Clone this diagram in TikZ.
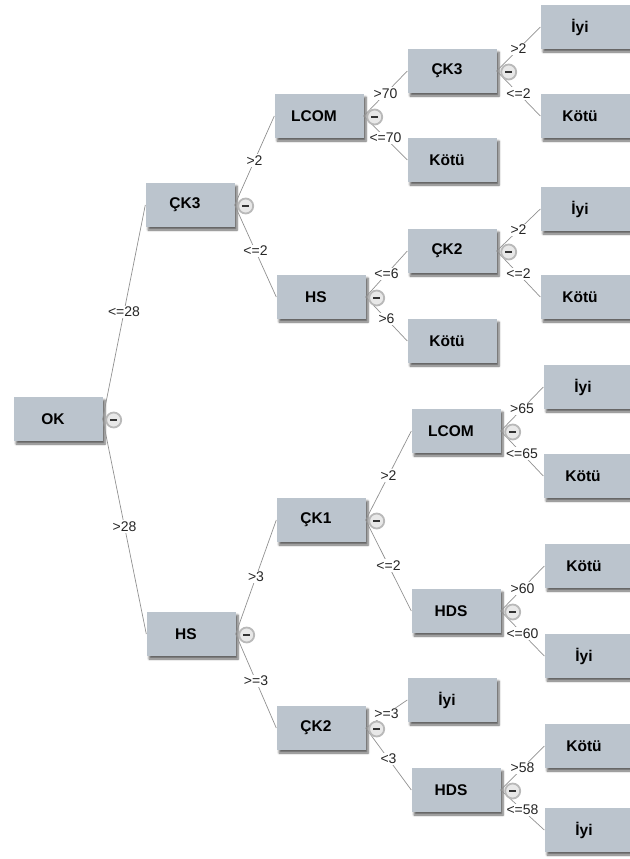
\documentclass[tikz,border=0pt]{standalone}
\usepackage{fontspec}
\setmainfont{Liberation Sans}
\usetikzlibrary{shadows.blur}
\definecolor{boxgray}{RGB}{187,196,205}
\definecolor{edgegray}{RGB}{145,145,145}
\begin{document}
\begin{tikzpicture}[
        x=1pt, y=-1pt,
        split/.style={rectangle, fill=boxgray, minimum width=89pt, minimum height=44pt,
            inner sep=0pt, font=\fontsize{15.5}{17}\selectfont\bfseries,
            blur shadow={shadow xshift=2.5pt, shadow yshift=-3pt, shadow blur steps=6, shadow opacity=60},
            execute at end node={\hspace*{10pt}}},
        leaf/.style={split},
        cond/.style={fill=white, inner sep=1.5pt, text=black!85, font=\fontsize{14}{16}\selectfont},
        branch/.style={draw=edgegray, line width=0.7pt},
        toggle/.style={circle, draw=gray!55, line width=1.8pt, fill=gray!18, minimum size=15pt, inner sep=0pt,
            path picture={\fill[black!80] ([xshift=-3.5pt,yshift=-1pt]path picture bounding box.center)
                rectangle ([xshift=3.5pt,yshift=1pt]path picture bounding box.center);}},
        ]
    \useasboundingbox (0,0) rectangle (629,859);

    % decision nodes
    \node (ok) [split] at (58,419) {OK};
    \node (ck3) [split] at (190,205) {ÇK3};
    \node (hs) [split] at (191,634) {HS};
    \node (lcom) [split] at (319,116) {LCOM};
    \node (hsb) [split] at (321,297) {HS};
    \node (ck1) [split] at (321,520) {ÇK1};
    \node (ck2) [split] at (321,728) {ÇK2};
    \node (ck3b) [split] at (452,71) {ÇK3};
    \node (kotua) [split] at (452,160) {Kötü};
    \node (ck2b) [split] at (452,251) {ÇK2};
    \node (kotub) [split] at (452,341) {Kötü};
    \node (lcomb) [split] at (456,431) {LCOM};
    \node (hds) [split] at (456,611) {HDS};
    \node (iyia) [split] at (452,700) {İyi};
    \node (hdsb) [split] at (456,790) {HDS};

    % leaves
    \node (l1) [leaf] at (585,27) {İyi};
    \node (l2) [leaf] at (585,116) {Kötü};
    \node (l3) [leaf] at (585,209) {İyi};
    \node (l4) [leaf] at (585,297) {Kötü};
    \node (l5) [leaf] at (588,387) {İyi};
    \node (l6) [leaf] at (588,476) {Kötü};
    \node (l7) [leaf] at (589,566) {Kötü};
    \node (l8) [leaf] at (589,656) {İyi};
    \node (l9) [leaf] at (589,746) {Kötü};
    \node (l10) [leaf] at (589,830) {İyi};

    % branches
    \draw[branch] (ok.east) -- node[cond] {<=28} (ck3.west);
    \draw[branch] (ok.east) -- node[cond] {>28} (hs.west);
    \draw[branch] (ck3.east) -- node[cond] {>2} (lcom.west);
    \draw[branch] (ck3.east) -- node[cond] {<=2} (hsb.west);
    \draw[branch] (hs.east) -- node[cond] {>3} (ck1.west);
    \draw[branch] (hs.east) -- node[cond] {>=3} (ck2.west);
    \draw[branch] (lcom.east) -- node[cond] {>70} (ck3b.west);
    \draw[branch] (lcom.east) -- node[cond] {<=70} (kotua.west);
    \draw[branch] (hsb.east) -- node[cond] {<=6} (ck2b.west);
    \draw[branch] (hsb.east) -- node[cond] {>6} (kotub.west);
    \draw[branch] (ck1.east) -- node[cond] {>2} (lcomb.west);
    \draw[branch] (ck1.east) -- node[cond] {<=2} (hds.west);
    \draw[branch] (ck2.east) -- node[cond] {>=3} (iyia.west);
    \draw[branch] (ck2.east) -- node[cond] {<3} (hdsb.west);
    \draw[branch] (ck3b.east) -- node[cond] {>2} (l1.west);
    \draw[branch] (ck3b.east) -- node[cond] {<=2} (l2.west);
    \draw[branch] (ck2b.east) -- node[cond] {>2} (l3.west);
    \draw[branch] (ck2b.east) -- node[cond] {<=2} (l4.west);
    \draw[branch] (lcomb.east) -- node[cond] {>65} (l5.west);
    \draw[branch] (lcomb.east) -- node[cond] {<=65} (l6.west);
    \draw[branch] (hds.east) -- node[cond] {>60} (l7.west);
    \draw[branch] (hds.east) -- node[cond] {<=60} (l8.west);
    \draw[branch] (hdsb.east) -- node[cond] {>58} (l9.west);
    \draw[branch] (hdsb.east) -- node[cond] {<=58} (l10.west);

    % collapse buttons
    \node (tok) [toggle] at ([xshift=11pt,yshift=-1pt]ok.east) {};
    \node (tck3) [toggle] at ([xshift=11pt,yshift=-1pt]ck3.east) {};
    \node (ths) [toggle] at ([xshift=11pt,yshift=-1pt]hs.east) {};
    \node (tlcom) [toggle] at ([xshift=11pt,yshift=-1pt]lcom.east) {};
    \node (thsb) [toggle] at ([xshift=11pt,yshift=-1pt]hsb.east) {};
    \node (tck1) [toggle] at ([xshift=11pt,yshift=-1pt]ck1.east) {};
    \node (tck2) [toggle] at ([xshift=11pt,yshift=-1pt]ck2.east) {};
    \node (tck3b) [toggle] at ([xshift=12pt,yshift=-1pt]ck3b.east) {};
    \node (tck2b) [toggle] at ([xshift=12pt,yshift=-1pt]ck2b.east) {};
    \node (tlcomb) [toggle] at ([xshift=12pt,yshift=-1pt]lcomb.east) {};
    \node (thds) [toggle] at ([xshift=12pt,yshift=-1pt]hds.east) {};
    \node (thdsb) [toggle] at ([xshift=12pt,yshift=-1pt]hdsb.east) {};
\end{tikzpicture}
\end{document}
